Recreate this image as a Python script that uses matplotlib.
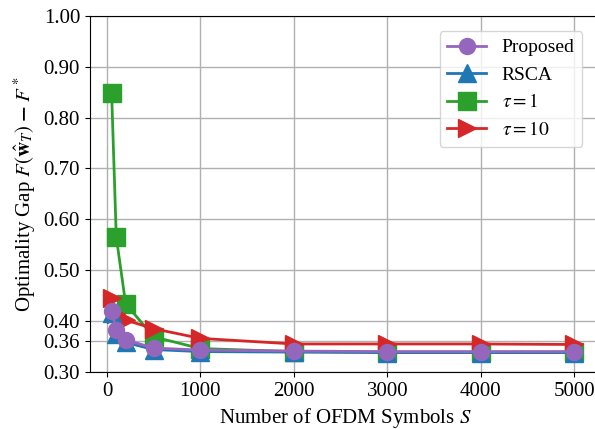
import numpy as np
import matplotlib.pyplot as plt

plt.rcParams['font.family'] = ['Liberation Serif', 'DejaVu Serif']
plt.rcParams['mathtext.fontset'] = 'stix'
plt.rcParams['font.size'] = 15

# Numero de simbolos OFDM
symbols = [50, 100, 200, 500, 1000, 2000, 3000, 4000, 5000]

proposed = [0.420, 0.383, 0.363, 0.347, 0.343, 0.341, 0.340, 0.340, 0.340]
rsca = [0.415, 0.375, 0.358, 0.344, 0.340, 0.339, 0.338, 0.338, 0.338]
tau1 = [0.849, 0.565, 0.434, 0.369, 0.346, 0.340, 0.339, 0.339, 0.339]
tau10 = [0.445, 0.413, 0.402, 0.385, 0.366, 0.355, 0.355, 0.355, 0.354]

yticks = [0.30, 0.36, 0.40, 0.50, 0.60, 0.70, 0.80, 0.90, 1.00]
xticks = [0, 1000, 2000, 3000, 4000, 5000]

fig = plt.figure(figsize=(5.95, 4.29), dpi=100)
ax = fig.add_axes([0.151, 0.133, 0.858, 0.830])

ms = 12.5
lw = 2.0
ax.plot(symbols, tau1, color='#2ca02c', marker='s', markersize=ms, linewidth=lw, label=r'$\tau = 1$', zorder=3)
ax.plot(symbols, tau10, color='#d62728', marker='>', markersize=ms, linewidth=lw, label=r'$\tau = 10$', zorder=3)
ax.plot(symbols, rsca, color='#1f77b4', marker='^', markersize=ms, linewidth=lw, label='RSCA', zorder=4)
ax.plot(symbols, proposed, color='#9467bd', marker='o', markersize=ms - 1, linewidth=lw, label='Proposed', zorder=5)

ax.set_xlim(-183, 5280)
ax.set_ylim(0.30, 1.00)
ax.set_xticks(xticks)
ax.set_yticks(yticks)
ax.set_yticklabels([f'{v:.2f}' for v in yticks])
ax.grid(True, color='#b0b0b0', linewidth=1.0)
ax.set_axisbelow(True)

ax.set_xlabel(r'Number of OFDM Symbols $S$')
ax.set_ylabel(r'Optimality Gap $F(\hat{\mathbf{w}}_T)\;\boldsymbol{-}\;F^*$')

handles, labels = ax.get_legend_handles_labels()
order = [3, 2, 0, 1]
ax.legend([handles[i] for i in order], [labels[i] for i in order],
          loc='upper right', bbox_to_anchor=(0.984, 0.985), fontsize=14)

fig.savefig('out.png', dpi=100)
